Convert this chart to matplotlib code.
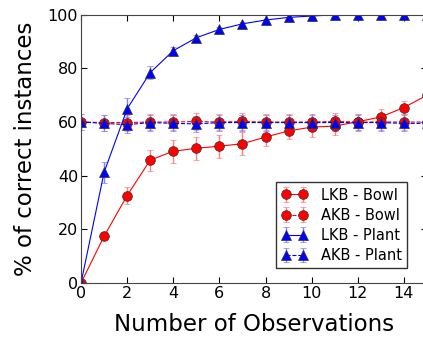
import numpy as np
import matplotlib
matplotlib.use("Agg")
import matplotlib.pyplot as plt

obs = np.arange(0, 16)

lkb_bowl = [0, 17.4, 32.6, 45.8, 49.1, 50.2, 51, 51.9, 54.4, 56.7, 58.1, 58.5, 60.1, 61.9, 65.4, 70]
lkb_bowl_err = [0.5, 1.5, 3.2, 3.9, 4.2, 4.3, 4.3, 4.3, 3.5, 3, 3.5, 3.5, 3, 3, 2.5, 2.5]
akb_bowl = [60, 59.8, 59.8, 60, 60, 60.2, 60, 60.2, 60, 60, 60, 60.2, 60, 60, 60, 60]
akb_bowl_err = [3, 3, 3, 3, 3, 3, 3, 3, 3, 3, 3, 3, 3, 3, 3, 3]
lkb_plant = [0, 41.2, 64.9, 78.4, 86.6, 91.4, 94.5, 96.6, 98, 99, 99.5, 100, 100, 100, 100, 100]
lkb_plant_err = [0.5, 3.9, 3.9, 2.5, 1.5, 1, 0.8, 0.5, 0.5, 0.3, 0.3, 0.2, 0.2, 0.2, 0.2, 0.2]
akb_plant = [60, 59.5, 59, 59.8, 59.5, 59.3, 59.8, 59.8, 59.8, 59.8, 59.8, 59.8, 59.8, 59.8, 59.5, 59.5]
akb_plant_err = [3, 3, 3, 3, 3, 3, 3, 3, 3, 3, 3, 3, 3, 3, 3, 3]

fig = plt.figure(figsize=(4.23, 3.39), dpi=100)
# the right spine falls just outside the picture, as in the original
ax = fig.add_axes([81 / 423, 1 - 283 / 339, 346 / 423, 268.3 / 339])

common = dict(markersize=7, linewidth=0.8, elinewidth=1, capsize=2.5, capthick=1,
              markeredgecolor="#333333", markeredgewidth=0.5)
ax.errorbar(obs, lkb_bowl, yerr=lkb_bowl_err, fmt="o-", color="red",
            ecolor="#ff8080", label="LKB - Bowl", **common)
ax.errorbar(obs, akb_bowl, yerr=akb_bowl_err, fmt="o--", color="red",
            ecolor="#ff8080", label="AKB - Bowl", **common)
ax.errorbar(obs, lkb_plant, yerr=lkb_plant_err, fmt="^-", color="blue",
            ecolor="#8080ff", label="LKB - Plant", **common)
ax.errorbar(obs, akb_plant, yerr=akb_plant_err, fmt="^--", color="blue",
            ecolor="#8080ff", label="AKB - Plant", **common)

ax.set_xlim(0, 15)
ax.set_ylim(0, 100)
ax.set_xticks(range(0, 15, 2))
ax.set_yticks(range(0, 101, 20))
ax.tick_params(labelsize=11.5, direction="in", length=4, top=True, right=True, pad=2)
for s in ax.spines.values():
    s.set_color("#444444")
ax.set_xlabel("Number of Observations", fontsize=16.5, labelpad=9)
ax.set_ylabel("% of correct instances", fontsize=16.5, labelpad=8)

leg = ax.legend(loc="lower right", bbox_to_anchor=(326 / 346, 15 / 268.3), numpoints=2,
                fontsize=10.5, fancybox=False, framealpha=1, handlelength=1.8,
                handletextpad=0.9, borderpad=0.35, labelspacing=0.35, borderaxespad=0)
leg.get_frame().set_edgecolor("#333333")

fig.savefig("out.png", dpi=100)
